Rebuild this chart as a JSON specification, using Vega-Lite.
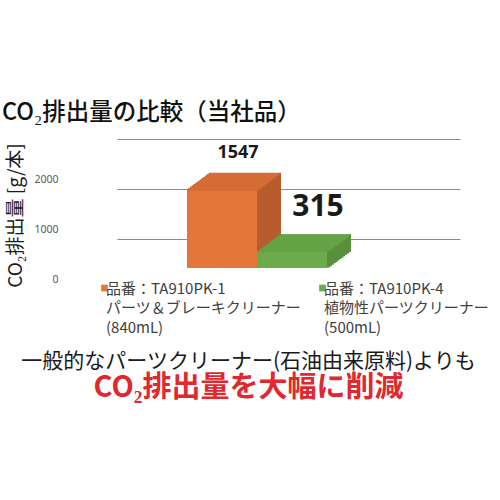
{
  "$schema": "https://vega.github.io/schema/vega-lite/v6.json",
  "autosize": "none",
  "width": 343,
  "height": 100,
  "padding": {"left": 117, "top": 168, "right": 40, "bottom": 232},
  "background": "white",
  "config": {"view": {"stroke": null}, "font": "Noto Sans CJK JP"},
  "title": {
    "text": "CO₂排出量の比較（当社品）",
    "anchor": "start",
    "frame": "group",
    "dx": -115,
    "offset": 18,
    "fontSize": 23.5,
    "fontWeight": 500,
    "font": "Noto Sans CJK JP",
    "color": "#111111"
  },
  "data": {
    "values": [
      {"id": "A", "item": "品番：TA910PK-1|パーツ＆ブレーキクリーナー|(840mL)", "co2": 1547},
      {"id": "B", "item": "品番：TA910PK-4|植物性パーツクリーナー|(500mL)", "co2": 315}
    ]
  },
  "encoding": {
    "x": {"field": "item", "type": "nominal", "sort": null, "axis": null,
          "scale": {"domain": ["_l", "品番：TA910PK-1|パーツ＆ブレーキクリーナー|(840mL)", "品番：TA910PK-4|植物性パーツクリーナー|(500mL)", "_r"],
                    "paddingInner": 0, "paddingOuter": 0.45, "align": 0}},
    "y": {"field": "co2", "type": "quantitative",
          "scale": {"domain": [0, 2000], "nice": false},
          "axis": {"values": [0, 1000, 2000], "format": "d", "grid": true, "gridColor": "#8c8c8c", "gridWidth": 1,
                   "tickOffset": -29, "labelOffset": 40, "ticks": false, "domain": false,
                   "labelPadding": 59, "labelFontSize": 10.5, "labelColor": "#595959",
                   "labelFont": "Noto Sans", "labelAlign": "right", "labelBaseline": "middle",
                   "title": "CO₂排出量 [g/本]", "titleX": -102, "titleY": 47, "titleAngle": -90,
                   "titleAlign": "center", "titleBaseline": "middle", "titleFontSize": 19,
                   "titleFontWeight": "normal", "titleColor": "#1a1a1a", "titleFont": "Noto Sans CJK JP"}}
  },
  "layer": [
    {"mark": {"type": "bar", "xOffset": 1.917, "yOffset": -1.417, "strokeWidth": 2},
     "encoding": {"fill": {"condition": {"test": "datum.id === 'A'", "value": "#B65C2D"}, "value": "#5A8F3D"},
                  "stroke": {"condition": {"test": "datum.id === 'A'", "value": "#B65C2D"}, "value": "#5A8F3D"}}},
    {"mark": {"type": "bar", "xOffset": 3.833, "yOffset": -2.833, "strokeWidth": 2},
     "encoding": {"fill": {"condition": {"test": "datum.id === 'A'", "value": "#B65C2D"}, "value": "#5A8F3D"},
                  "stroke": {"condition": {"test": "datum.id === 'A'", "value": "#B65C2D"}, "value": "#5A8F3D"}}},
    {"mark": {"type": "bar", "xOffset": 5.75, "yOffset": -4.25, "strokeWidth": 2},
     "encoding": {"fill": {"condition": {"test": "datum.id === 'A'", "value": "#B65C2D"}, "value": "#5A8F3D"},
                  "stroke": {"condition": {"test": "datum.id === 'A'", "value": "#B65C2D"}, "value": "#5A8F3D"}}},
    {"mark": {"type": "bar", "xOffset": 7.667, "yOffset": -5.667, "strokeWidth": 2},
     "encoding": {"fill": {"condition": {"test": "datum.id === 'A'", "value": "#B65C2D"}, "value": "#5A8F3D"},
                  "stroke": {"condition": {"test": "datum.id === 'A'", "value": "#B65C2D"}, "value": "#5A8F3D"}}},
    {"mark": {"type": "bar", "xOffset": 9.583, "yOffset": -7.083, "strokeWidth": 2},
     "encoding": {"fill": {"condition": {"test": "datum.id === 'A'", "value": "#B65C2D"}, "value": "#5A8F3D"},
                  "stroke": {"condition": {"test": "datum.id === 'A'", "value": "#B65C2D"}, "value": "#5A8F3D"}}},
    {"mark": {"type": "bar", "xOffset": 11.5, "yOffset": -8.5, "strokeWidth": 2},
     "encoding": {"fill": {"condition": {"test": "datum.id === 'A'", "value": "#B65C2D"}, "value": "#5A8F3D"},
                  "stroke": {"condition": {"test": "datum.id === 'A'", "value": "#B65C2D"}, "value": "#5A8F3D"}}},
    {"mark": {"type": "bar", "xOffset": 13.417, "yOffset": -9.917, "strokeWidth": 2},
     "encoding": {"fill": {"condition": {"test": "datum.id === 'A'", "value": "#B65C2D"}, "value": "#5A8F3D"},
                  "stroke": {"condition": {"test": "datum.id === 'A'", "value": "#B65C2D"}, "value": "#5A8F3D"}}},
    {"mark": {"type": "bar", "xOffset": 15.333, "yOffset": -11.333, "strokeWidth": 2},
     "encoding": {"fill": {"condition": {"test": "datum.id === 'A'", "value": "#B65C2D"}, "value": "#5A8F3D"},
                  "stroke": {"condition": {"test": "datum.id === 'A'", "value": "#B65C2D"}, "value": "#5A8F3D"}}},
    {"mark": {"type": "bar", "xOffset": 17.25, "yOffset": -12.75, "strokeWidth": 2},
     "encoding": {"fill": {"condition": {"test": "datum.id === 'A'", "value": "#B65C2D"}, "value": "#5A8F3D"},
                  "stroke": {"condition": {"test": "datum.id === 'A'", "value": "#B65C2D"}, "value": "#5A8F3D"}}},
    {"mark": {"type": "bar", "xOffset": 19.167, "yOffset": -14.167, "strokeWidth": 2},
     "encoding": {"fill": {"condition": {"test": "datum.id === 'A'", "value": "#B65C2D"}, "value": "#5A8F3D"},
                  "stroke": {"condition": {"test": "datum.id === 'A'", "value": "#B65C2D"}, "value": "#5A8F3D"}}},
    {"mark": {"type": "bar", "xOffset": 21.083, "yOffset": -15.583, "strokeWidth": 2},
     "encoding": {"fill": {"condition": {"test": "datum.id === 'A'", "value": "#B65C2D"}, "value": "#5A8F3D"},
                  "stroke": {"condition": {"test": "datum.id === 'A'", "value": "#B65C2D"}, "value": "#5A8F3D"}}},
    {"mark": {"type": "bar", "xOffset": 23, "yOffset": -17, "strokeWidth": 2},
     "encoding": {"fill": {"condition": {"test": "datum.id === 'A'", "value": "#B65C2D"}, "value": "#5A8F3D"},
                  "stroke": {"condition": {"test": "datum.id === 'A'", "value": "#B65C2D"}, "value": "#5A8F3D"}}},
    {"mark": {"type": "tick", "size": 70, "thickness": 2.5, "xOffset": 0, "yOffset": 0, "opacity": 1},
     "encoding": {"color": {"condition": {"test": "datum.id === 'A'", "value": "#D66D35"}, "value": "#65A346"}}},
    {"mark": {"type": "tick", "size": 70, "thickness": 2.5, "xOffset": 1.917, "yOffset": -1.417, "opacity": 1},
     "encoding": {"color": {"condition": {"test": "datum.id === 'A'", "value": "#D66D35"}, "value": "#65A346"}}},
    {"mark": {"type": "tick", "size": 70, "thickness": 2.5, "xOffset": 3.833, "yOffset": -2.833, "opacity": 1},
     "encoding": {"color": {"condition": {"test": "datum.id === 'A'", "value": "#D66D35"}, "value": "#65A346"}}},
    {"mark": {"type": "tick", "size": 70, "thickness": 2.5, "xOffset": 5.75, "yOffset": -4.25, "opacity": 1},
     "encoding": {"color": {"condition": {"test": "datum.id === 'A'", "value": "#D66D35"}, "value": "#65A346"}}},
    {"mark": {"type": "tick", "size": 70, "thickness": 2.5, "xOffset": 7.667, "yOffset": -5.667, "opacity": 1},
     "encoding": {"color": {"condition": {"test": "datum.id === 'A'", "value": "#D66D35"}, "value": "#65A346"}}},
    {"mark": {"type": "tick", "size": 70, "thickness": 2.5, "xOffset": 9.583, "yOffset": -7.083, "opacity": 1},
     "encoding": {"color": {"condition": {"test": "datum.id === 'A'", "value": "#D66D35"}, "value": "#65A346"}}},
    {"mark": {"type": "tick", "size": 70, "thickness": 2.5, "xOffset": 11.5, "yOffset": -8.5, "opacity": 1},
     "encoding": {"color": {"condition": {"test": "datum.id === 'A'", "value": "#D66D35"}, "value": "#65A346"}}},
    {"mark": {"type": "tick", "size": 70, "thickness": 2.5, "xOffset": 13.417, "yOffset": -9.917, "opacity": 1},
     "encoding": {"color": {"condition": {"test": "datum.id === 'A'", "value": "#D66D35"}, "value": "#65A346"}}},
    {"mark": {"type": "tick", "size": 70, "thickness": 2.5, "xOffset": 15.333, "yOffset": -11.333, "opacity": 1},
     "encoding": {"color": {"condition": {"test": "datum.id === 'A'", "value": "#D66D35"}, "value": "#65A346"}}},
    {"mark": {"type": "tick", "size": 70, "thickness": 2.5, "xOffset": 17.25, "yOffset": -12.75, "opacity": 1},
     "encoding": {"color": {"condition": {"test": "datum.id === 'A'", "value": "#D66D35"}, "value": "#65A346"}}},
    {"mark": {"type": "tick", "size": 70, "thickness": 2.5, "xOffset": 19.167, "yOffset": -14.167, "opacity": 1},
     "encoding": {"color": {"condition": {"test": "datum.id === 'A'", "value": "#D66D35"}, "value": "#65A346"}}},
    {"mark": {"type": "tick", "size": 70, "thickness": 2.5, "xOffset": 21.083, "yOffset": -15.583, "opacity": 1},
     "encoding": {"color": {"condition": {"test": "datum.id === 'A'", "value": "#D66D35"}, "value": "#65A346"}}},
    {"mark": {"type": "tick", "size": 70, "thickness": 2, "xOffset": 22.6, "yOffset": -16.7, "opacity": 1},
     "encoding": {"color": {"condition": {"test": "datum.id === 'A'", "value": "#D66D35"}, "value": "#65A346"}}},
    {"mark": {"type": "bar"},
     "encoding": {
       "x": {"field": "item", "type": "nominal", "sort": null,
             "scale": {"domain": ["_l", "品番：TA910PK-1|パーツ＆ブレーキクリーナー|(840mL)", "品番：TA910PK-4|植物性パーツクリーナー|(500mL)", "_r"],
                       "paddingInner": 0, "paddingOuter": 0.45, "align": 0},
             "axis": {"orient": "bottom", "labels": false, "ticks": false, "domain": false,
                      "title": "一般的なパーツクリーナー(石油由来原料)よりも",
                      "titleX": 131, "titleY": 93, "titleAlign": "center", "titleBaseline": "middle",
                      "titleFontSize": 21, "titleFontWeight": "normal", "titleColor": "#1a1a1a",
                      "titleFont": "Noto Sans CJK JP"}},
       "color": {"field": "item", "type": "nominal", "sort": null,
                 "scale": {"range": ["#E4763A", "#6CAB4C"]},
                 "legend": {"orient": "none", "legendX": -20, "legendY": 118, "direction": "horizontal",
                            "columns": 2, "columnPadding": 13, "title": null, "padding": 0,
                            "symbolType": "M-1,-2.7H1V-0.7H-1Z", "symbolSize": 45, "symbolStrokeWidth": 0,
                            "labelFontSize": 15, "labelFont": "Noto Sans CJK JP",
                            "labelColor": "#404040", "labelBaseline": "alphabetic", "labelOffset": -6,
                            "labelLimit": 300, "labelExpr": "split(datum.label, '|')",
                            "encode": {"labels": {"update": {"lineHeight": {"value": 19.5}}}}}}
     }},
    {"transform": [{"filter": "datum.id === 'A'"}],
     "mark": {"type": "text", "dx": 16, "dy": -38, "baseline": "middle", "align": "center",
              "font": "Open Sans", "fontWeight": "bold", "fontSize": 18, "color": "#1a1a1a"},
     "encoding": {"text": {"field": "co2", "type": "quantitative"}}},
    {"transform": [{"filter": "datum.id === 'B'"}],
     "mark": {"type": "text", "dx": 26, "dy": -45, "baseline": "middle", "align": "center",
              "font": "Open Sans", "fontWeight": "bold", "fontSize": 30, "color": "#1a1a1a"},
     "encoding": {
       "x": {"field": "item", "type": "nominal", "sort": null,
             "scale": {"domain": ["_l", "品番：TA910PK-1|パーツ＆ブレーキクリーナー|(840mL)", "品番：TA910PK-4|植物性パーツクリーナー|(500mL)", "_r"],
                       "paddingInner": 0, "paddingOuter": 0.45, "align": 0},
             "axis": {"orient": "top", "labels": false, "ticks": false, "domain": false,
                      "title": "CO₂排出量を大幅に削減",
                      "titleX": 131, "titleY": 219, "titleAlign": "center", "titleBaseline": "middle",
                      "titleFontSize": 29, "titleFontWeight": "bold", "titleColor": "#E0282E",
                      "titleFont": "Noto Sans CJK JP"}},
       "text": {"field": "co2", "type": "quantitative"}}}
  ],
  "resolve": {"axis": {"x": "independent"}}
}
